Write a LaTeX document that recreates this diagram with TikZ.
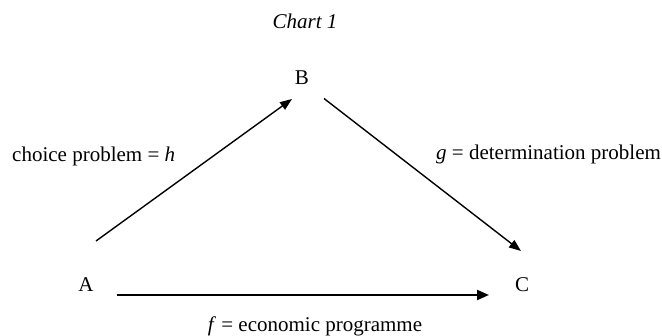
\documentclass[tikz,border=0pt]{standalone}
\usepackage{fontspec}
\setmainfont{Liberation Serif}
\usetikzlibrary{arrows.meta}
\begin{document}
\begin{tikzpicture}[x=1pt,y=-1pt,
  lbl/.style={anchor=base,inner sep=0pt,font=\fontsize{21}{25}\selectfont},
  conn/.style={line width=1.4pt,-{Triangle[length=12pt,width=9pt]}},
  connthick/.style={line width=2pt,-{Triangle[length=12pt,width=10pt]}}]
\useasboundingbox (0,0) rectangle (662,336);
\node[lbl] (title) at (305,29) {\itshape Chart 1};
\node[lbl] (B) at (302,85) {B};
\node[lbl] (A) at (86,291.5) {A};
\node[lbl] (C) at (522,292) {C};
\node[lbl,anchor=base west] (h) at (12,161.5) {choice problem = \textit{h}};
\node[lbl,anchor=base west] (g) at (436,159.5) {\textit{g} = determination problem};
\node[lbl] (f) at (315,332) {\textit{f} = economic programme};
\coordinate (ab1) at (96,241);
\coordinate (ab2) at (292,99);
\coordinate (bc1) at (324,98.5);
\coordinate (bc2) at (521,251);
\coordinate (ac1) at (116.5,295);
\coordinate (ac2) at (489,295);
\draw[conn] (ab1) -- (ab2);
\draw[conn] (bc1) -- (bc2);
\draw[connthick] (ac1) -- (ac2);
\end{tikzpicture}
\end{document}
